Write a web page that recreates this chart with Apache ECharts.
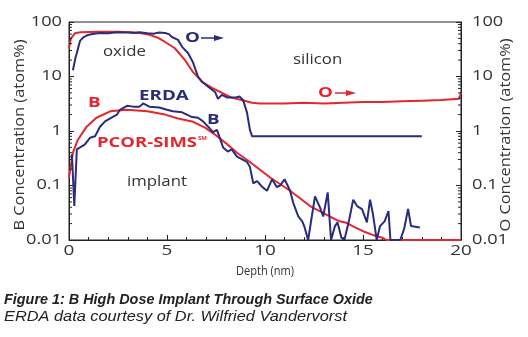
<!DOCTYPE html>
<html><head><meta charset="utf-8">
<script src="https://cdn.jsdelivr.net/npm/echarts@6/dist/echarts.min.js"></script>
<style>html,body{margin:0;padding:0;background:#fff}#c{width:528px;height:337px}</style>
</head><body><div id="c"></div>
<script>
// Depth (nm), concentration (atom%)
const erdaO = [[0.2,13],[0.27,12],[0.33,22],[0.4,27],[0.56,45],[0.75,53],[0.92,57],[1.2,60],[1.58,63],[2.0,62],[2.45,65],[3.0,64],[3.3,63],[3.6,65],[4.0,62],[4.3,61],[4.6,64],[4.9,63],[5.1,60],[5.25,53],[5.56,47],[5.77,35],[6.07,27],[6.33,18],[6.58,10],[6.79,8],[7.1,6.5],[7.45,5.2],[7.6,3.9],[7.8,4.6],[7.96,4.3],[8.1,4.1],[8.47,4.1],[8.7,4.3],[8.88,3.7],[9.08,2.2],[9.23,1.05],[9.34,0.8],[18,0.8]];
const simsO = [[0,33],[0.1,50],[0.3,62],[0.6,65],[1.5,66],[2.5,66],[3.2,65],[3.7,62],[4.1,58],[4.5,52],[4.9,43],[5.4,33],[5.92,20],[6.33,12],[6.79,8],[7.3,6.2],[7.8,5],[8.3,4.1],[8.8,3.7],[9.34,3.3],[9.74,3.2],[11,3.2],[12,3.3],[13,3.2],[14,3.3],[15,3.4],[16,3.4],[17,3.5],[18,3.6],[19,3.7],[19.9,3.9],[20,5]];
const simsB = [[0,0.14],[0.2,0.4],[0.46,0.7],[0.9,1.2],[1.4,1.75],[2.1,2.3],[2.96,2.45],[4.0,2.3],[4.9,2.0],[5.56,1.7],[6.28,1.5],[6.94,1.15],[7.45,0.86],[8.0,0.6],[8.57,0.4],[9.23,0.27],[10.26,0.14],[11.28,0.08],[12.3,0.042],[13.3,0.027],[13.8,0.022],[14.1,0.021],[14.6,0.017],[15.1,0.014],[15.6,0.012],[16.0,0.011],[16.2,0.01],[20,0.01]];
const erdaB = [[0.1,0.32],[0.15,0.37],[0.27,0.042],[0.4,0.46],[0.5,0.5],[0.65,0.52],[0.8,0.56],[1.07,0.75],[1.33,0.8],[1.58,1.2],[1.84,1.5],[2.1,1.7],[2.45,2.0],[2.6,2.45],[2.96,2.9],[3.27,2.8],[3.6,2.8],[3.78,3.2],[4.1,2.8],[4.6,2.7],[5.0,2.45],[5.3,2.3],[5.77,2.2],[6.28,1.8],[6.58,1.75],[6.84,1.5],[7.1,1.2],[7.35,0.95],[7.55,1.05],[7.86,0.5],[8.1,0.42],[8.3,0.46],[8.57,0.34],[9.08,0.27],[9.23,0.22],[9.4,0.11],[9.6,0.12],[9.85,0.095],[10.1,0.08],[10.36,0.13],[10.6,0.094],[10.77,0.1],[11.0,0.13],[11.28,0.08],[11.44,0.048],[11.7,0.027],[11.9,0.022],[12.0,0.018],[12.2,0.01],[12.55,0.063],[12.8,0.04],[12.97,0.027],[13.2,0.075],[13.37,0.01],[13.57,0.018],[13.7,0.021],[13.9,0.011],[14.05,0.01],[14.3,0.024],[14.5,0.055],[14.7,0.042],[14.95,0.037],[15.2,0.021],[15.36,0.055],[15.5,0.031],[15.7,0.01],[15.87,0.018],[16.1,0.022],[16.3,0.034],[16.4,0.01],[16.9,0.01],[17.1,0.016],[17.3,0.037],[17.45,0.018],[17.9,0.017]];
const yTicks = [0.01, 0.1, 1, 10, 100];
const yTickLabels = ['0.01', '0.1', '1', '10', '100'];
const xTicks = [0, 5, 10, 15, 20];
const xTickLabels = ['0', '5', '10', '15', '20'];
const yMinorTicks = [0.02,0.03,0.04,0.05,0.06,0.07,0.08,0.09,0.2,0.3,0.4,0.5,0.6,0.7,0.8,0.9,2,3,4,5,6,7,8,9,20,30,40,50,60,70,80,90];

const BLUE = '#2a2c7c', RED = '#e5262d', INK = '#222', GRAY = '#333';
const TICKFONT = '14px "Open Sans"';
const chart = echarts.init(document.getElementById('c'), null, {renderer:'canvas'});

function yAxisDef(pos){
  return {
    type:'log', logBase:10, min:0.01, max:100, position:pos,
    axisLine:{show:true, onZero:false, lineStyle:{color:INK, width:1}},
    axisTick:{show:true, inside:true, length:5, lineStyle:{color:INK}},
    minorTick:{show:false}, splitLine:{show:false},
    axisLabel:{show:false}
  };
}

chart.setOption({
  animation:false,
  grid:{left:69, right:67, top:22, bottom:97, show:true, borderColor:INK, borderWidth:1, backgroundColor:'transparent'},
  xAxis:{type:'value', min:0, max:20, interval:5,
    axisLine:{show:true, onZero:false, lineStyle:{color:INK}},
    axisTick:{show:true, inside:true, length:5, lineStyle:{color:INK}},
    minorTick:{show:true, splitNumber:5, length:3, lineStyle:{color:INK}},
    splitLine:{show:false}, axisLabel:{show:false}},
  yAxis:[yAxisDef('left'), yAxisDef('right')],
  series:[
    // log-spaced minor ticks on both y axes
    {type:'custom', silent:true, yAxisIndex:0, clip:false, z:5,
     data: yMinorTicks.map(v => [0, v]), encode:{x:0, y:1},
     renderItem:(params, api) => {
       const y = api.coord([0, api.value(1)])[1];
       const cs = params.coordSys;
       return {type:'group', children:[
         {type:'line', shape:{x1:cs.x, y1:y, x2:cs.x+3, y2:y}, style:{stroke:INK, lineWidth:1}},
         {type:'line', shape:{x1:cs.x+cs.width-3, y1:y, x2:cs.x+cs.width, y2:y}, style:{stroke:INK, lineWidth:1}}
       ]};
     }},
    // y tick labels, both sides
    {type:'custom', silent:true, yAxisIndex:0, clip:false, z:5,
     data: yTicks.map((v, i) => [0, v, i]), encode:{x:0, y:1},
     renderItem:(params, api) => {
       const y = api.coord([0, api.value(1)])[1];
       const cs = params.coordSys;
       const t = yTickLabels[api.value(2)];
       return {type:'group', children:[
         {type:'text', x:cs.x-7, y:y, scaleX:1.3, style:{text:t, font:TICKFONT, fill:GRAY, align:'right', verticalAlign:'middle'}},
         {type:'text', x:cs.x+cs.width+11, y:y, scaleX:1.3, style:{text:t, font:TICKFONT, fill:GRAY, align:'left', verticalAlign:'middle'}}
       ]};
     }},
    // x tick labels
    {type:'custom', silent:true, yAxisIndex:0, clip:false, z:5,
     data: xTicks.map((v, i) => [v, 1, i]), encode:{x:0, y:1},
     renderItem:(params, api) => {
       const x = api.coord([api.value(0), 1])[0];
       const cs = params.coordSys;
       return {type:'text', x:x, y:cs.y+cs.height+4, scaleX:1.35, style:{text:xTickLabels[api.value(2)], font:TICKFONT, fill:GRAY, align:'center', verticalAlign:'top'}};
     }},
    {name:'SIMS O', type:'line', yAxisIndex:1, data:simsO, showSymbol:false, lineStyle:{color:RED, width:2}, itemStyle:{color:RED}, z:3},
    {name:'SIMS B', type:'line', yAxisIndex:0, data:simsB, showSymbol:false, lineStyle:{color:RED, width:2}, itemStyle:{color:RED}, z:3},
    {name:'ERDA O', type:'line', yAxisIndex:1, data:erdaO, showSymbol:false, lineStyle:{color:BLUE, width:2}, itemStyle:{color:BLUE}, z:4},
    {name:'ERDA B', type:'line', yAxisIndex:0, data:erdaB, showSymbol:false, lineStyle:{color:BLUE, width:2}, itemStyle:{color:BLUE}, z:4}
  ],
  graphic:[
    {type:'text', x:20, y:135, rotation:Math.PI/2, scaleX:1.17, style:{text:'B Concentration (atom%)', fill:GRAY, font:'14px "Open Sans"', align:'center', verticalAlign:'middle'}},
    {type:'text', x:506, y:135, rotation:Math.PI/2, scaleX:1.17, style:{text:'O Concentration (atom%)', fill:GRAY, font:'14px "Open Sans"', align:'center', verticalAlign:'middle'}},
    {type:'text', x:265, y:271, scaleX:0.85, style:{text:'Depth (nm)', fill:GRAY, font:'13px "Open Sans"', align:'center', verticalAlign:'middle'}},
    {type:'text', x:103, y:52, scaleX:1.2, style:{text:'oxide', fill:GRAY, font:'14px "Open Sans"', verticalAlign:'middle'}},
    {type:'text', x:293, y:60, scaleX:1.2, style:{text:'silicon', fill:GRAY, font:'14px "Open Sans"', verticalAlign:'middle'}},
    {type:'text', x:127, y:182, scaleX:1.2, style:{text:'implant', fill:GRAY, font:'14px "Open Sans"', verticalAlign:'middle'}},
    {type:'text', x:139, y:96, scaleX:1.25, style:{text:'ERDA', fill:BLUE, font:'bold 15px "Open Sans"', verticalAlign:'middle'}},
    {type:'text', x:207, y:120, scaleX:1.25, style:{text:'B', fill:BLUE, font:'bold 15px "Open Sans"', verticalAlign:'middle'}},
    {type:'text', x:185, y:38, scaleX:1.25, style:{text:'O', fill:BLUE, font:'bold 15px "Open Sans"', verticalAlign:'middle'}},
    {type:'line', shape:{x1:201, y1:38, x2:218, y2:38}, style:{stroke:BLUE, lineWidth:1.5}},
    {type:'polygon', shape:{points:[[224,38],[214,35],[214,41]]}, style:{fill:BLUE}},
    {type:'text', x:88, y:103, scaleX:1.25, style:{text:'B', fill:RED, font:'bold 15px "Open Sans"', verticalAlign:'middle'}},
    {type:'text', x:97, y:143, scaleX:1.23, style:{text:'PCOR-SIMS', fill:RED, font:'bold 15px "Open Sans"', verticalAlign:'middle'}},
    {type:'text', x:198, y:138, style:{text:'SM', fill:RED, font:'bold 6px "Open Sans"', verticalAlign:'middle'}},
    {type:'text', x:318, y:93, scaleX:1.25, style:{text:'O', fill:RED, font:'bold 15px "Open Sans"', verticalAlign:'middle'}},
    {type:'line', shape:{x1:335, y1:93, x2:350, y2:93}, style:{stroke:RED, lineWidth:1.5}},
    {type:'polygon', shape:{points:[[356,93],[346,90],[346,96]]}, style:{fill:RED}},
    {type:'text', x:4, y:300, scaleX:0.96, style:{text:'Figure 1: B High Dose Implant Through Surface Oxide', fill:'#222', font:'italic bold 15px "Liberation Sans"', verticalAlign:'middle'}},
    {type:'text', x:4, y:317, scaleX:1.09, style:{text:'ERDA data courtesy of Dr. Wilfried Vandervorst', fill:'#222', font:'italic 15px "Liberation Sans"', verticalAlign:'middle'}}
  ]
});
</script></body></html>
